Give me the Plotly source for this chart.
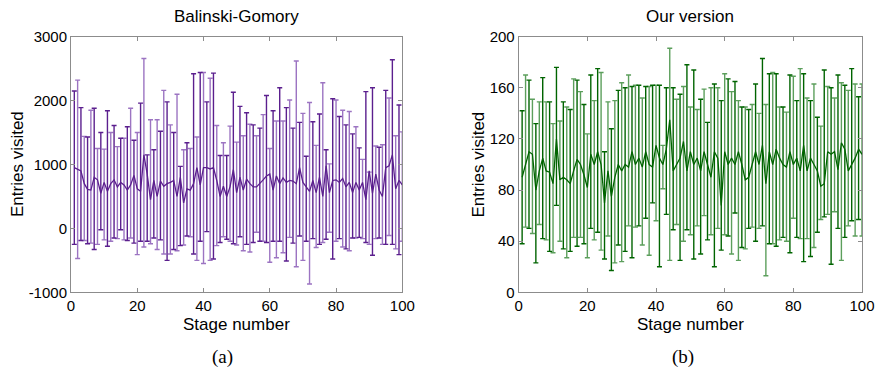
import plotly.graph_objects as go

stages = list(range(1, 101))

bg_upper = [2150, 2320, 1890, 1440, 1430, 1850, 1880, 1250, 1500, 1240,
            1840, 1500, 1610, 1280, 1410, 1410, 1590, 1880, 1380, 1500,
            1960, 2660, 1150, 1700, 1230, 1700, 1520, 2160, 1980, 1620,
            1500, 2100, 970, 1230, 1340, 1250, 2420, 1430, 2440, 2440,
            1980, 2350, 2430, 1610, 1140, 1340, 1140, 1600, 2130, 1350,
            1910, 1450, 1810, 1630, 1620, 1450, 1570, 1780, 2080, 1250,
            1840, 1680, 2200, 1680, 1890, 2010, 1570, 2620, 1660, 1800,
            1130, 1970, 1670, 1300, 1790, 2280, 1230, 1010, 2030, 2010,
            1750, 1850, 1620, 1830, 1480, 1590, 1260, 1080, 2140, 880,
            2200, 1290, 1270, 1310, 2160, 2040, 2640, 1450, 1930, 1510]
bg_lower = [-250, -470, -190, -190, -240, -230, -330, -250, -20, -180,
            -280, -200, -150, -160, -20, -180, -190, -150, -230, -410,
            -200, -290, -200, -240, -150, -330, -180, -400, -500, -400,
            -330, -350, -270, -260, -120, -130, -400, -500, -200, -550,
            -50, -500, -480, -270, -220, -130, -170, -200, -240, -260,
            -130, -350, -250, -370, -220, -60, -200, -200, -220, -530,
            -200, -460, -200, -380, -510, -140, -230, -600, -120, -500,
            -200, -870, -160, -300, -250, -220, -170, -60, -480, -200,
            -160, -290, -320, -350, -150, -150, -140, -160, -220, -250,
            -420, -160, -150, -250, -250, -110, -250, -320, -410, -200]
bg_mean = [950, 930, 900, 700, 610, 600, 800, 760, 550, 720,
           580, 700, 760, 650, 720, 680, 600, 680, 830, 620,
           580, 1150, 850, 450, 750, 500, 740, 660, 700, 720,
           750, 500, 800, 400, 620, 600, 700, 950, 680, 950,
           950, 930, 950, 750, 500, 660, 500, 650, 920, 560,
           800, 600, 770, 700, 650, 650, 700, 760, 820, 850,
           600, 820, 700, 790, 720, 750, 740, 700, 950, 720,
           650, 580, 750, 560, 800, 500, 980, 560, 750, 760,
           720, 780, 650, 720, 560, 720, 600, 720, 450, 900,
           550, 850, 600, 500, 950, 980, 1150, 620, 750, 680]

ov_upper = [142, 170, 166, 151, 132, 149, 168, 149, 149, 132,
            176, 134, 149, 145, 143, 167, 166, 157, 147, 124,
            170, 150, 175, 172, 110, 149, 128, 150, 158, 164,
            160, 170, 161, 162, 162, 152, 161, 161, 162, 162,
            162, 115, 160, 191, 160, 151, 155, 161, 178, 145,
            174, 143, 151, 159, 133, 160, 163, 160, 150, 171,
            167, 157, 165, 150, 145, 145, 143, 147, 163, 140,
            183, 147, 171, 172, 171, 145, 145, 141, 170, 169,
            150, 175, 171, 152, 150, 163, 137, 130, 174, 161,
            160, 152, 170, 164, 162, 158, 175, 163, 153, 163]
ov_lower = [38, 51, 50, 46, 23, 53, 42, 41, 32, 31,
            68, 40, 34, 27, 32, 43, 36, 43, 38, 27,
            50, 41, 47, 33, 26, 44, 17, 23, 37, 24,
            32, 52, 27, 51, 52, 37, 58, 29, 70, 56,
            20, 81, 61, 25, 49, 53, 25, 40, 49, 45,
            26, 52, 30, 60, 41, 45, 20, 50, 33, 45,
            44, 30, 62, 25, 35, 34, 50, 51, 40, 50,
            52, 13, 38, 38, 36, 41, 43, 40, 31, 58,
            43, 42, 24, 42, 28, 35, 47, 57, 59, 61,
            22, 63, 50, 25, 43, 52, 56, 44, 57, 44]
ov_mean = [90, 100, 110, 108, 80, 95, 105, 95, 94, 85,
           120, 88, 90, 88, 85, 95, 104, 100, 92, 82,
           108, 100, 110, 100, 70, 95, 75, 90, 100, 95,
           100, 98, 110, 100, 105, 98, 110, 100, 98, 115,
           105, 100, 112, 135, 95, 100, 105, 118, 95, 110,
           100, 105, 95, 110, 100, 90, 110, 105, 68, 110,
           100, 105, 100, 110, 100, 88, 90, 100, 110, 100,
           115, 85, 110, 100, 112, 105, 100, 98, 110, 100,
           105, 95, 115, 95, 105, 100, 95, 83, 85, 110,
           108, 110, 96, 117, 112, 95, 100, 105, 112, 108]

x_ticks = [0, 20, 40, 60, 80, 100]
bg_yticks = [-1000, 0, 1000, 2000, 3000]
bg_ylabels = ["-1000", "0", "1000", "2000", "3000"]
ov_yticks = [0, 40, 80, 120, 160, 200]

fig = go.Figure()


def add_panel(xa, ya, mean, upper, lower, dark, light):
    for parity, col in ((0, light), (1, dark)):
        xs = [s for s in stages if s % 2 == parity]
        ms = [mean[s - 1] for s in xs]
        up = [upper[s - 1] - mean[s - 1] for s in xs]
        dn = [mean[s - 1] - lower[s - 1] for s in xs]
        fig.add_trace(go.Scatter(
            x=xs, y=ms, mode="markers", xaxis=xa, yaxis=ya,
            marker=dict(size=1, color="rgba(0,0,0,0)"),
            error_y=dict(type="data", symmetric=False, array=up, arrayminus=dn,
                         color=col, thickness=1.4, width=2.5),
            showlegend=False, hoverinfo="skip"))
    fig.add_trace(go.Scatter(x=stages, y=mean, mode="lines", xaxis=xa, yaxis=ya,
                             line=dict(color=dark, width=1.3), showlegend=False))


add_panel("x", "y", bg_mean, bg_upper, bg_lower, "#5b1f8e", "#9c74c2")
add_panel("x2", "y2", ov_mean, ov_upper, ov_lower, "#006400", "#5c9f5c")

axis_common = dict(showline=True, linecolor="#8c8c8c", linewidth=1, mirror="ticks",
                   ticks="inside", ticklen=4, tickcolor="#8c8c8c", showgrid=False,
                   zeroline=False, automargin=False,
                   tickfont=dict(family="Liberation Sans", size=15, color="#000"))

fig.update_layout(
    template="none",
    width=876, height=371, margin=dict(l=0, r=0, t=0, b=0, pad=0),
    paper_bgcolor="white", plot_bgcolor="white",
    xaxis=dict(domain=[71 / 876, 402.3 / 876], range=[0, 100], tickvals=x_ticks,
               anchor="y", **axis_common),
    yaxis=dict(domain=[1 - 292.3 / 371, 1 - 36.7 / 371], range=[-1000, 3000],
               tickvals=bg_yticks, ticktext=bg_ylabels, anchor="x", **axis_common),
    xaxis2=dict(domain=[518.7 / 876, 862 / 876], range=[0, 100], tickvals=x_ticks,
                anchor="y2", **axis_common),
    yaxis2=dict(domain=[1 - 292.3 / 371, 1 - 36.7 / 371], range=[0, 200],
                tickvals=ov_yticks, anchor="x2", **axis_common),
)

f17 = dict(family="Liberation Sans", size=17, color="#000")
serif = dict(family="Liberation Serif", size=19, color="#000")
ann = [
    dict(text="Balinski-Gomory", x=236.6, y=16.5, font=f17),
    dict(text="Our version", x=690, y=16.5, font=f17),
    dict(text="Stage number", x=236.6, y=324, font=f17),
    dict(text="Stage number", x=690, y=324, font=f17),
    dict(text="Entries visited", x=17.5, y=164.5, font=f17, textangle=-90),
    dict(text="Entries visited", x=478, y=164.5, font=f17, textangle=-90),
    dict(text="(a)", x=222.7, y=357, font=serif),
    dict(text="(b)", x=682.5, y=357, font=serif),
]
for a in ann:
    fig.add_annotation(text=a["text"], x=a["x"] / 876, y=1 - a["y"] / 371,
                       xref="paper", yref="paper", showarrow=False,
                       xanchor="center", yanchor="middle", font=a["font"],
                       textangle=a.get("textangle", 0))

fig.write_html("out.html", config={"displayModeBar": False},
               post_script="document.body.style.margin='0';document.body.style.overflow='hidden';")
